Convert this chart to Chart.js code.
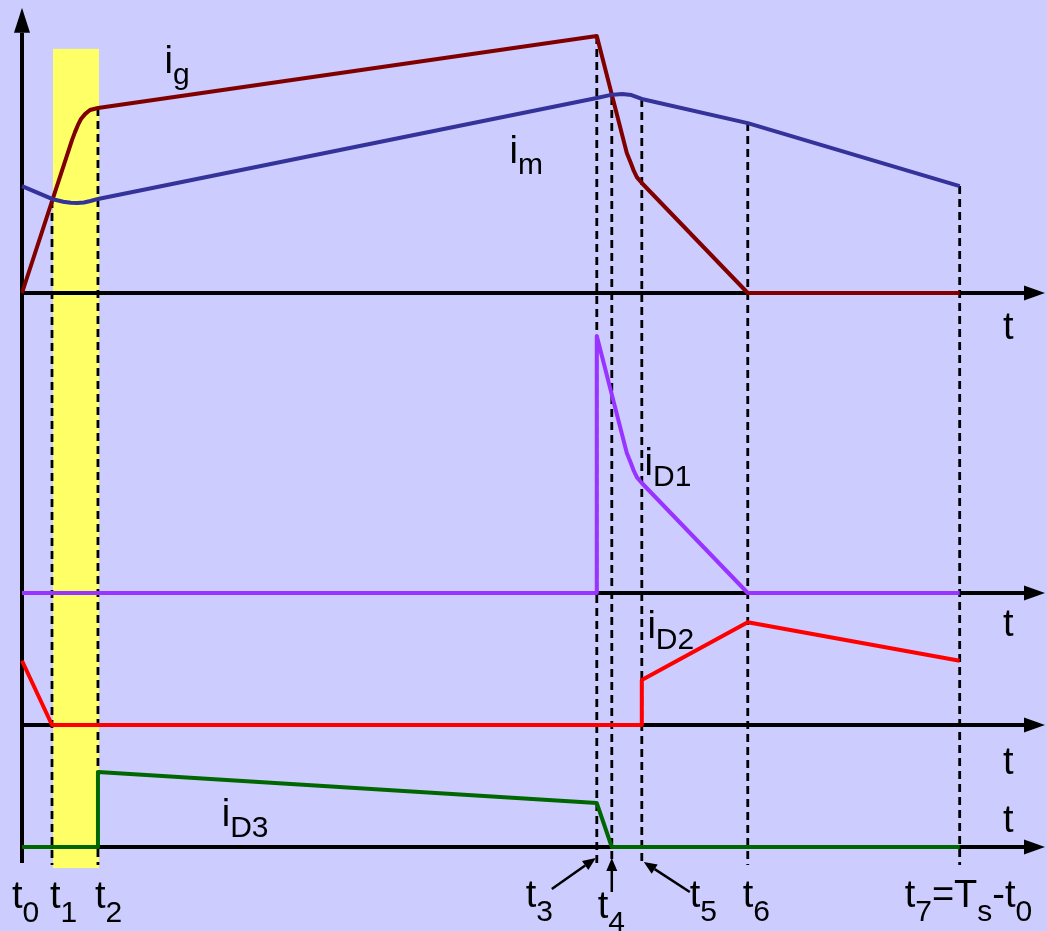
<!DOCTYPE html>
<html>
<head>
<meta charset="utf-8">
<script src="https://cdn.jsdelivr.net/npm/chart.js@4"></script>
<style>
  html, body { margin: 0; padding: 0; background: #ccccff; }
  canvas { display: block; }
</style>
</head>
<body>
<canvas id="waveforms" width="1047" height="931"></canvas>
<script>
// switching instants t0..t7, time in % of the period Ts
const tMarks = [0, 3.2, 8.1, 61.3, 62.9, 66.1, 77.4, 100];
// where each dashed marker starts, in top-panel current units
const markTop = [null, 3.62, 7.2, 10, 7.63, 7.55, 6.61, 4.16];

// gate-side current i_g (top panel)
const igT = [0, 5.33, 5.65, 5.97, 6.29, 6.72, 7.25, 8.1, 61.3, 64.5, 64.93, 65.25, 65.57, 66.1, 77.4, 100];
const igV = [0, 5.95, 6.26, 6.54, 6.77, 6.96, 7.12, 7.2, 10, 5.45, 5.06, 4.75, 4.51, 4.28, 0, 0];

// magnetizing current i_m (top panel)
const imT = [0, 3.2, 4.4, 5.2, 5.9, 6.6, 7.3, 8.1, 61.3, 62.7, 64.0, 65.0, 66.1, 77.4, 100];
const imV = [4.16, 3.66, 3.55, 3.51, 3.5, 3.52, 3.58, 3.66, 7.59, 7.7, 7.74, 7.7, 7.55, 6.61, 4.16];

// diode currents, one panel each
const iD1T = [0, 61.3, 61.3, 64.5, 64.93, 65.25, 65.57, 66.1, 77.4, 100];
const iD1V = [0, 0, 10, 5.45, 5.06, 4.75, 4.51, 4.28, 0, 0];

const iD2T = [0, 3.2, 66.1, 66.1, 77.4, 100];
const iD2V = [2.5, 0, 0, 1.75, 4.0, 2.5];

const iD3T = [0, 8.1, 8.1, 61.3, 62.9, 100];
const iD3V = [0, 0, 2.92, 1.71, 0, 0];

// every panel uses the same px per unit, only the zero line moves
const yUnit = 25.7;
const canvasH = 931;
function panelRange(base) {
  return { min: -(canvasH - base) / yUnit, max: base / yUnit };
}

function pts(ts, vs) {
  return ts.map((t, i) => ({ x: t, y: vs[i] }));
}

function series(label, ts, vs, color, axis) {
  return {
    label: label,
    data: pts(ts, vs),
    yAxisID: axis,
    borderColor: color,
    borderWidth: 4,
    pointRadius: 0,
    tension: 0,
    clip: false,
    borderJoinStyle: 'round'
  };
}

const FONT = '"Liberation Sans", Arial, sans-serif';
function drawSub(ctx, x, y, parts, size, subSize, drop) {
  let cx = x;
  parts.forEach(p => {
    ctx.font = (p[1] ? subSize : size) + 'px ' + FONT;
    ctx.fillText(p[0], cx, p[1] ? y + drop : y);
    cx += ctx.measureText(p[0]).width;
  });
}

function arrow(ctx, x1, y1, x2, y2, len, half) {
  const a = Math.atan2(y2 - y1, x2 - x1);
  const bx = x2 - len * Math.cos(a), by = y2 - len * Math.sin(a);
  ctx.beginPath();
  ctx.moveTo(x1, y1);
  ctx.lineTo(bx, by);
  ctx.stroke();
  ctx.beginPath();
  ctx.moveTo(x2, y2);
  ctx.lineTo(bx + half * Math.sin(a), by - half * Math.cos(a));
  ctx.lineTo(bx - half * Math.sin(a), by + half * Math.cos(a));
  ctx.closePath();
  ctx.fill();
}

// curve names: text parts, anchor time, anchor value, panel axis
const curveLabels = [
  [[['i', 0], ['g', 1]], 15.2, 8.56, 'y1'],
  [[['i', 0], ['m', 1]], 52.0, 5.06, 'y1'],
  [[['i', 0], ['D1', 1]], 66.4, 4.59, 'y2'],
  [[['i', 0], ['D2', 1]], 66.7, 3.39, 'y3'],
  [[['i', 0], ['D3', 1]], 21.3, 0.82, 'y4']
];

// instant names under the plot: parts, x shift from the marker, baseline
const timeLabels = [
  [[['t', 0], ['0', 1]], -10, 908],
  [[['t', 0], ['1', 1]], -2, 908],
  [[['t', 0], ['2', 1]], -3, 908],
  [[['t', 0], ['3', 1]], -71, 907],
  [[['t', 0], ['4', 1]], -14, 918],
  [[['t', 0], ['5', 1]], 48, 907],
  [[['t', 0], ['6', 1]], -5, 907],
  [[['t', 0], ['7', 1], ['=T', 0], ['s', 1], ['-t', 0], ['0', 1]], -55, 907]
];

// pointer arrows for the close instants t3, t4, t5: [index, dx1, y1, dx2, y2]
const pointers = [
  [3, -45, 889, -1, 858],
  [4, 0, 892, 0, 858],
  [5, 48, 892, 2, 862]
];

// "t" next to each time axis: panel, dy from the zero line
const axisNames = [['y1', 46], ['y2', 43], ['y3', 49], ['y4', -15]];

const sketch = {
  id: 'sketch',
  beforeDatasetsDraw(chart) {
    const ctx = chart.ctx, s = chart.scales;
    const X = t => s.x.getPixelForValue(t);
    ctx.save();

    // t1..t2 interval
    ctx.fillStyle = '#ffff66';
    const top = s.y1.getPixelForValue(9.5), bot = s.y4.getPixelForValue(-0.82);
    const xa = X(tMarks[1]) + 1, xb = X(tMarks[2]) + 1;
    ctx.fillRect(xa, top, xb - xa, bot - top);

    // dashed markers
    ctx.strokeStyle = '#000';
    ctx.lineWidth = 2.8;
    ctx.setLineDash([8, 5]);
    for (let k = 1; k < tMarks.length; k++) {
      ctx.beginPath();
      ctx.moveTo(X(tMarks[k]), s.y1.getPixelForValue(markTop[k]));
      ctx.lineTo(X(tMarks[k]), s.y4.getPixelForValue(-0.7));
      ctx.stroke();
    }
    ctx.setLineDash([]);

    // time axes with arrow heads
    ctx.fillStyle = '#000';
    ctx.lineWidth = 4;
    const x0 = X(0), right = chart.chartArea.right;
    ['y1', 'y2', 'y3', 'y4'].forEach(id => {
      const y = s[id].getPixelForValue(0);
      arrow(ctx, x0 - 2, y, right, y, 21, 7.5);
    });
    // current axis
    arrow(ctx, x0, s.y4.getPixelForValue(-0.62), x0, s.y1.getPixelForValue(11.1), 25, 8);
    ctx.restore();
  },
  afterDatasetsDraw(chart) {
    const ctx = chart.ctx, s = chart.scales;
    const X = t => s.x.getPixelForValue(t);
    ctx.save();
    ctx.fillStyle = '#000';
    ctx.strokeStyle = '#000';
    ctx.textBaseline = 'alphabetic';

    curveLabels.forEach(l => {
      drawSub(ctx, X(l[1]), s[l[3]].getPixelForValue(l[2]), l[0], 38, 30, 11);
    });
    timeLabels.forEach((l, k) => {
      drawSub(ctx, X(tMarks[k]) + l[1], l[2], l[0], 38, 30, 14);
    });
    axisNames.forEach(a => {
      drawSub(ctx, 1003, s[a[0]].getPixelForValue(0) + a[1], [['t', 0]], 38, 30, 0);
    });

    ctx.lineWidth = 2.5;
    pointers.forEach(p => {
      const xm = X(tMarks[p[0]]);
      arrow(ctx, xm + p[1], p[2], xm + p[3], p[4], 13, 5.5);
    });
    ctx.restore();
  }
};

new Chart(document.getElementById('waveforms'), {
  type: 'line',
  data: {
    datasets: [
      series('i_m', imT, imV, '#333399', 'y1'),
      series('i_g', igT, igV, '#800000', 'y1'),
      series('i_D1', iD1T, iD1V, '#9933ff', 'y2'),
      series('i_D2', iD2T, iD2V, '#ff0000', 'y3'),
      series('i_D3', iD3T, iD3V, '#006600', 'y4')
    ]
  },
  options: {
    responsive: false,
    animation: false,
    events: [],
    layout: { padding: { left: 22, right: 2, top: 0, bottom: 0 } },
    plugins: { legend: { display: false }, tooltip: { enabled: false } },
    scales: {
      x: { type: 'linear', min: 0, max: 109.1, display: false },
      y1: Object.assign({ type: 'linear', display: false }, panelRange(293)),
      y2: Object.assign({ type: 'linear', display: false }, panelRange(593)),
      y3: Object.assign({ type: 'linear', display: false }, panelRange(725)),
      y4: Object.assign({ type: 'linear', display: false }, panelRange(847))
    }
  },
  plugins: [sketch]
});
</script>
</body>
</html>
